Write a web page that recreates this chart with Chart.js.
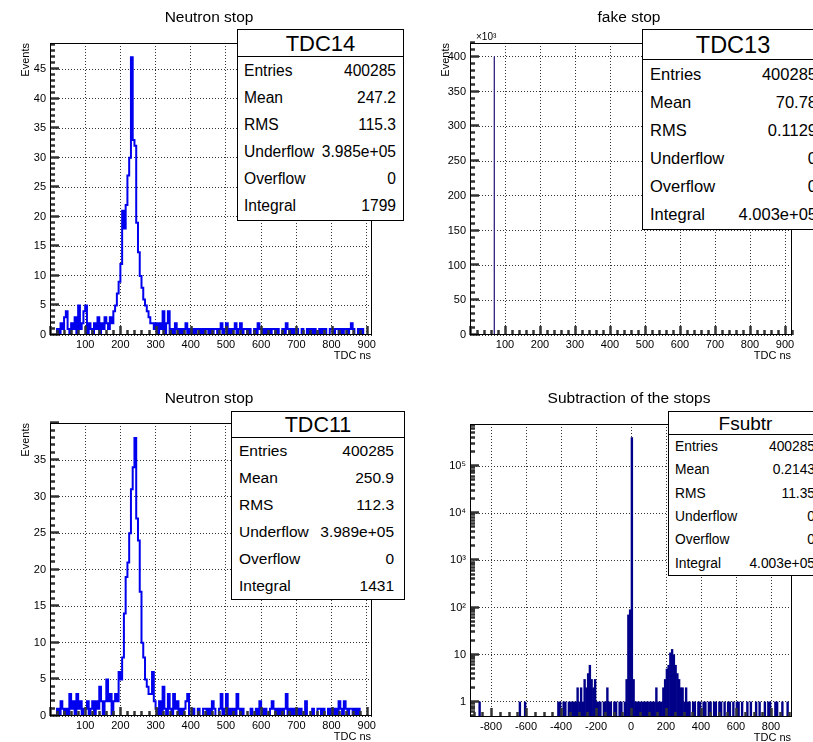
<!DOCTYPE html>
<html>
<head>
<meta charset="utf-8">
<title>TDC stops</title>
<script src="https://cdn.jsdelivr.net/npm/chart.js@4.4.1/dist/chart.umd.min.js"></script>
<style>
  html, body { margin: 0; padding: 0; background: #fff; }
  body { width: 813px; height: 742px; position: relative; overflow: hidden; font-family: "Liberation Sans", Arial, sans-serif; }
  canvas { position: absolute; }
  .stats { position: absolute; background: #fff; border: 1px solid #000; box-sizing: border-box; color: #000; }
  .stats .hdr { border-bottom: 1px solid #000; text-align: center; box-sizing: border-box; }
  .stats .row { display: flex; justify-content: space-between; align-items: center; box-sizing: border-box; white-space: nowrap; }
</style>
</head>
<body>
<canvas id="tdc14" width="405" height="370" style="left:0;top:0"></canvas>
<canvas id="tdc13" width="408" height="370" style="left:405px;top:0"></canvas>
<canvas id="tdc11" width="405" height="372" style="left:0;top:370px"></canvas>
<canvas id="fsubtr" width="408" height="372" style="left:405px;top:370px"></canvas>
<script>
// histogram contents (5 ns bins starting at 0 ns)
const tdcBinStart = 0;
const tdcBinWidth = 5;
const tdc14Counts = [
    0,0,0,0,1,0,2,1,3,4,1,0,2,1,3,0,5,1,2,4,
    5,0,2,1,0,2,1,3,0,2,1,3,2,1,3,2,4,5,7,9,
    12,21,18,22,27,30,47,33,32,19,14,10,8,6,5,4,3,2,2,1,
    2,0,2,1,4,0,2,4,0,1,0,2,1,0,1,0,1,2,0,1,
    0,1,0,1,1,0,1,0,1,1,0,1,0,1,1,0,1,2,0,1,
    2,0,1,0,1,2,0,1,2,0,1,1,0,1,0,0,1,0,2,1,
    1,0,1,0,1,0,1,1,0,1,0,0,1,0,2,1,0,1,0,1,
    1,0,0,1,0,0,1,0,1,0,1,0,0,1,0,1,1,0,0,1,
    1,0,1,1,0,1,0,1,1,0,1,2,1,0,0,1,0,1,0,0,
    0,0,0
];
const tdc11Counts = [
    0,0,0,0,1,0,2,1,0,1,0,3,1,2,0,3,1,2,0,1,
    1,2,0,1,2,0,2,1,4,2,0,2,5,2,3,0,2,3,2,6,
    5,8,14,19,21,25,31,34,38,27,24,17,10,8,5,4,3,3,6,2,
    1,0,2,0,4,1,0,3,1,0,3,1,2,0,1,0,1,2,3,0,
    0,1,0,0,1,0,0,1,1,0,1,0,2,1,0,0,1,3,0,1,
    3,0,1,0,1,0,3,1,0,1,0,0,0,0,1,0,0,1,0,2,
    1,0,1,0,0,1,2,1,0,1,0,1,0,1,3,0,1,0,1,0,
    1,0,1,0,0,2,0,0,0,1,0,0,1,1,0,1,0,0,1,0,
    1,0,1,0,2,1,0,2,1,0,1,1,0,1,0,1,0,0,0,0,
    0,0,0
];
// fake stop: one narrow bin, counts in units of 10^3
const tdc13BinStart = 69;
const tdc13BinWidth = 1;
const tdc13Counts = [400.285];
// subtraction (10 ns bins starting at -920 ns), 0 = empty bin
const subtrBinStart = -920;
const subtrBinWidth = 10;
const subtrCounts = [
    0,0,0,0,0,1,0,0,0,0,
    0,0,0,0,0,0,0,0,0,0,
    0,0,0,0,0,0,0,0,1,0,
    0,1,0,0,0,0,0,0,0,0,
    0,0,0,0,0,0,0,0,0,0,
    1,1,0,1,1,0,1,1,1,1,
    1,2,1,2,1,3,2,4,6,3,
    2,3,1,1,1,0,1,1,2,1,
    1,0,1,1,0,1,1,0,1,3,
    70,90,399850,3,1,1,1,1,1,1,
    1,1,1,1,1,1,2,1,1,1,
    2,3,5,6,11,13,10,6,4,3,
    2,2,1,2,1,1,0,1,1,0,
    1,1,0,1,1,0,1,1,0,1,
    1,0,1,1,0,1,0,1,1,0,
    1,0,1,1,0,1,0,0,1,0,
    1,0,0,1,0,1,0,0,1,0,
    1,1,0,0,1,1,0,0,1,0,
    0,1,0,0
];

// axis ticks
const tdcXTicks = [100, 200, 300, 400, 500, 600, 700, 800, 900];
const tdc14YTicks = [0, 5, 10, 15, 20, 25, 30, 35, 40, 45];
const tdc13YTicks = [0, 50, 100, 150, 200, 250, 300, 350, 400];
const tdc11YTicks = [0, 5, 10, 15, 20, 25, 30, 35];
const subtrXTicks = [-800, -600, -400, -200, 0, 200, 400, 600, 800];
const subtrYTicks = [1, 10, 100, 1000, 10000, 100000];
const subtrYLabels = ['1', '10', '10²', '10³', '10⁴', '10⁵'];

// stat boxes
const statNames = ['Entries', 'Mean', 'RMS', 'Underflow', 'Overflow', 'Integral'];
const tdc14Stats = ['400285', '247.2', '115.3', '3.985e+05', '0', '1799'];
const tdc13Stats = ['400285', '70.78', '0.1129', '0', '0', '4.003e+05'];
const tdc11Stats = ['400285', '250.9', '112.3', '3.989e+05', '0', '1431'];
const subtrStats = ['400285', '0.2143', '11.35', '0', '0', '4.003e+05'];

const FONT = '"Liberation Sans", Arial, sans-serif';
Chart.defaults.font.family = FONT;

// histogram outline as a stepped polyline
function stepPoints(start, width, counts) {
    const pts = [{ x: start, y: 0 }];
    counts.forEach((c, i) => pts.push({ x: start + i * width, y: c }));
    const end = start + counts.length * width;
    pts.push({ x: end, y: counts[counts.length - 1] });
    pts.push({ x: end, y: 0 });
    return pts;
}

function barPoints(start, width, counts) {
    return counts.map((c, i) => ({ x: start + (i + 0.5) * width, y: c > 0 ? c : null }));
}

function linearMarks(min, max, minor, major) {
    const out = [];
    const first = Math.ceil(min / minor);
    const last = Math.floor(max / minor + 1e-9);
    for (let k = first; k <= last; k++) {
        const v = k * minor;
        const r = v / major;
        out.push({ v, major: Math.abs(r - Math.round(r)) < 1e-6 });
    }
    return out;
}

function logMarks(min, max) {
    const out = [];
    for (let d = Math.floor(Math.log10(min)); d <= Math.ceil(Math.log10(max)); d++) {
        for (let k = 1; k < 10; k++) {
            const v = k * Math.pow(10, d);
            if (v >= min && v <= max) out.push({ v, major: k === 1 });
        }
    }
    return out;
}

// ROOT-like frame: inward ticks, frame box, titles (config kept in closure)
function makeFrame(f) {
    return {
        id: 'rootFrame',
        afterDraw(chart) {
            const { ctx, chartArea: a } = chart;
            const xs = chart.scales.x, ys = chart.scales.y;
            const left = Math.round(a.left), bottom = Math.round(a.bottom);
            const xm = linearMarks(xs.min, xs.max, f.xMinor, f.xMajor);
            const ym = f.yLog ? logMarks(ys.min, ys.max) : linearMarks(ys.min, ys.max, f.yMinor, f.yMajor);
            ctx.save();
            ctx.setLineDash([]);
            ctx.strokeStyle = '#333';
            ctx.lineWidth = 2.5;
            ctx.beginPath();
            xm.forEach(t => {
                const px = Math.round(xs.getPixelForValue(t.v)) + 0.5;
                ctx.moveTo(px, bottom);
                ctx.lineTo(px, bottom - (t.major ? 9 : 5));
            });
            ym.forEach(t => {
                const py = Math.round(ys.getPixelForValue(t.v)) - 0.5;
                ctx.moveTo(left, py);
                ctx.lineTo(left + (t.major ? 9 : 5), py);
            });
            ctx.stroke();
            ctx.lineWidth = 1;
            ctx.strokeStyle = '#000';
            ctx.strokeRect(left + 0.5, Math.round(a.top) + 0.5,
                Math.round(a.right) - left - 1, bottom - Math.round(a.top) - 1);

            ctx.fillStyle = '#000';
            ctx.textBaseline = 'middle';
            ctx.textAlign = 'center';
            ctx.font = '15.5px ' + FONT;
            ctx.fillText(f.title, (a.left + a.right) / 2 - 2, f.titleY);

            ctx.font = '11px ' + FONT;
            ctx.textAlign = 'right';
            ctx.fillText('TDC ns', a.right - 1, a.bottom + 21);
            if (f.yTitle) {
                ctx.save();
                ctx.translate(a.left - 24, a.top);
                ctx.rotate(-Math.PI / 2);
                ctx.textAlign = 'right';
                ctx.fillText(f.yTitle, 0, 0);
                ctx.restore();
            }
            if (f.multiplier) {
                ctx.font = '10px ' + FONT;
                ctx.textAlign = 'left';
                ctx.fillText(f.multiplier, a.left + 6, a.top - 6);
            }
            ctx.restore();
        }
    };
}

function axis(type, min, max, tickValues, tickLabels, size, horizontal) {
    return {
        type, min, max,
        bounds: 'data',
        offset: false,
        grid: { color: '#333', lineWidth: 1, drawTicks: false, offset: false },
        border: { display: false, dash: [1, 2] },
        afterBuildTicks: s => { s.ticks = tickValues.map(v => ({ value: v })); },
        afterFit: s => { if (horizontal) s.height = size; else s.width = size; },
        ticks: {
            autoSkip: false, maxRotation: 0, minRotation: 0,
            padding: horizontal ? 3 : 4,
            color: '#000',
            font: { size: 11 },
            callback: (v, i) => tickLabels[i]
        }
    };
}

function render(id, type, dataset, c) {
    new Chart(document.getElementById(id), {
        type,
        data: { datasets: [dataset] },
        options: {
            responsive: false,
            animation: false,
            events: [],
            layout: { padding: { left: 0, top: c.area.top, right: c.w - c.area.right, bottom: 0 } },
            plugins: { legend: { display: false }, tooltip: { enabled: false } },
            scales: {
                x: axis('linear', c.xMin, c.xMax, c.xTicks, c.xTicks.map(String), c.h - c.area.bottom, true),
                y: axis(c.yLog ? 'logarithmic' : 'linear', c.yMin, c.yMax, c.yTicks, c.yLabels || c.yTicks.map(String), c.area.left, false)
            }
        },
        plugins: [makeFrame(c.frame)]
    });
}

function statsBox(name, values, b) {
    const el = document.createElement('div');
    el.className = 'stats';
    Object.assign(el.style, {
        left: b.left + 'px', top: b.top + 'px', width: b.width + 'px', height: b.height + 'px', fontSize: b.size + 'px'
    });
    const rowH = (b.height - 2 - b.head) / statNames.length;
    el.innerHTML = `<div class="hdr" style="height:${b.head}px;line-height:${b.head}px;font-size:${b.headSize}px">${name}</div>` +
        statNames.map((n, i) => `
            <div class="row" style="height:${rowH}px;padding:0 ${b.padR}px 0 ${b.padL}px">
                <span>${n}</span><span>${values[i]}</span>
            </div>`).join('');
    document.body.appendChild(el);
}

const lineStyle = { borderWidth: 2, stepped: true, pointRadius: 0, fill: false, tension: 0 };

render('tdc14', 'line', { ...lineStyle, data: stepPoints(tdcBinStart, tdcBinWidth, tdc14Counts), borderColor: '#0000ee' }, {
    w: 405, h: 370, area: { left: 50, right: 372, top: 43, bottom: 335 },
    xMin: 0, xMax: 915, xTicks: tdcXTicks, yMin: 0, yMax: 49.4, yTicks: tdc14YTicks,
    frame: { title: 'Neutron stop', titleY: 18, yTitle: 'Events', xMinor: 20, xMajor: 100, yMinor: 1, yMajor: 5 }
});

render('tdc13', 'line', { ...lineStyle, borderWidth: 1, data: stepPoints(tdc13BinStart, tdc13BinWidth, tdc13Counts), borderColor: '#3a2888' }, {
    w: 408, h: 370, area: { left: 65, right: 387, top: 43, bottom: 335 },
    xMin: 0, xMax: 920, xTicks: tdcXTicks, yMin: 0, yMax: 420, yTicks: tdc13YTicks,
    frame: { title: 'fake stop', titleY: 18, yTitle: 'Events', multiplier: '×10³', xMinor: 20, xMajor: 100, yMinor: 10, yMajor: 50 }
});

render('tdc11', 'line', { ...lineStyle, data: stepPoints(tdcBinStart, tdcBinWidth, tdc11Counts), borderColor: '#0000ee' }, {
    w: 405, h: 372, area: { left: 50, right: 372, top: 53, bottom: 346 },
    xMin: 0, xMax: 915, xTicks: tdcXTicks, yMin: 0, yMax: 40.06, yTicks: tdc11YTicks,
    frame: { title: 'Neutron stop', titleY: 29, yTitle: 'Events', xMinor: 20, xMajor: 100, yMinor: 1, yMajor: 5 }
});

render('fsubtr', 'bar', {
    data: barPoints(subtrBinStart, subtrBinWidth, subtrCounts),
    backgroundColor: '#000088', borderWidth: 0, barPercentage: 1, categoryPercentage: 1
}, {
    w: 408, h: 372, area: { left: 65, right: 387, top: 54, bottom: 347 },
    xMin: -920, xMax: 920, xTicks: subtrXTicks, yLog: true, yMin: 0.48, yMax: 7.8e5,
    yTicks: subtrYTicks, yLabels: subtrYLabels,
    frame: { title: 'Subtraction of the stops', titleY: 29, xMinor: 50, xMajor: 200, yLog: true }
});

statsBox('TDC14', tdc14Stats, { left: 237, top: 29, width: 167, height: 192, head: 27, size: 15.6, headSize: 22, padL: 6, padR: 7 });
statsBox('TDC13', tdc13Stats, { left: 642, top: 29, width: 182, height: 201, head: 30, size: 16.5, headSize: 23.5, padL: 7, padR: 6 });
statsBox('TDC11', tdc11Stats, { left: 231, top: 411, width: 174, height: 189, head: 26, size: 15.5, headSize: 21.5, padL: 7, padR: 10 });
statsBox('Fsubtr', subtrStats, { left: 668, top: 411, width: 155, height: 165, head: 23, size: 13.8, headSize: 19, padL: 6, padR: 7 });
</script>
</body>
</html>
